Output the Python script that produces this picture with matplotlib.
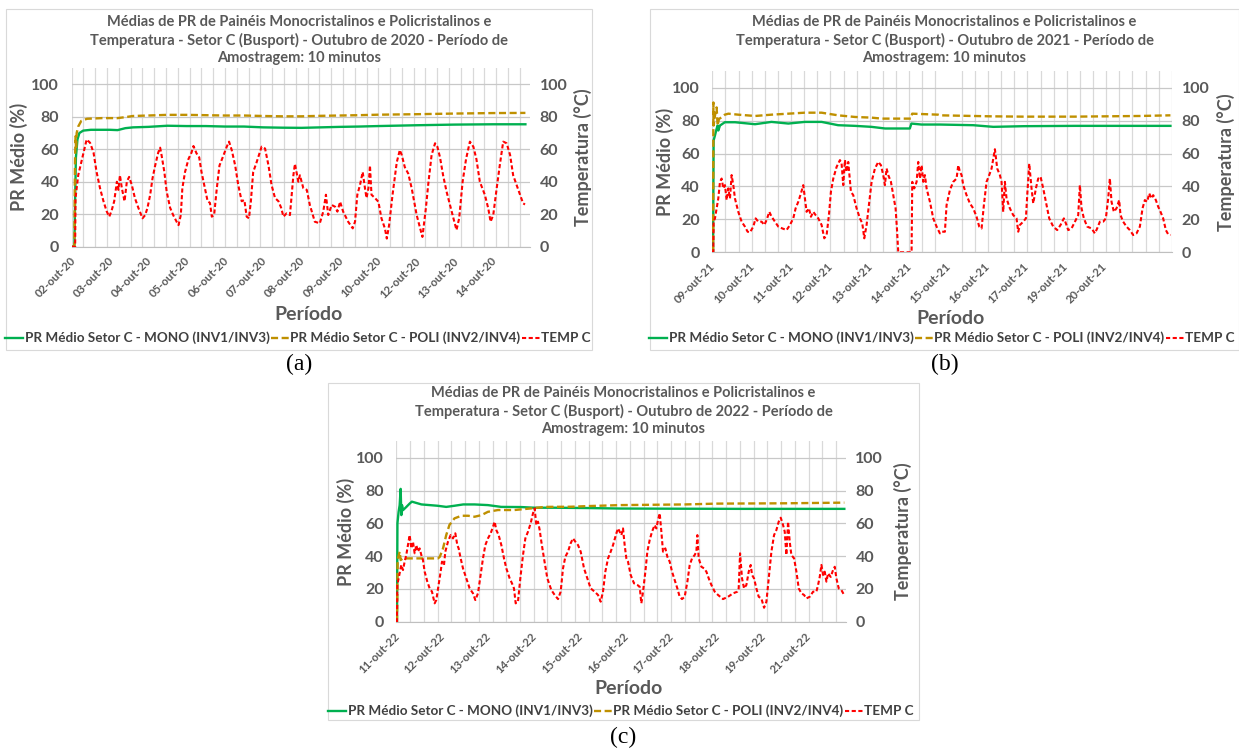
import matplotlib
matplotlib.use("Agg")
import matplotlib.pyplot as plt
from matplotlib.patches import Rectangle
from matplotlib.ticker import MultipleLocator

W, H = 1239, 751

plt.rcParams['font.family'] = ['Lato', 'DejaVu Sans']
plt.rcParams['font.weight'] = 'bold'

GREEN = '#00b050'
GOLD = '#bf9000'
RED = '#ff0000'
TXT = '#595959'
LEG = '#404040'

LEG_MONO = 'PR Médio Setor C - MONO (INV1/INV3)'
LEG_POLI = 'PR Médio Setor C - POLI (INV2/INV4)'
LEG_TEMP = 'TEMP C'
YLABEL_L = 'PR Médio (%)'
YLABEL_R = 'Temperatura (°C)'
XLABEL = 'Período'

# ---------------- (a) Outubro 2020 ----------------
a_title = ('Médias de PR de Painéis Monocristalinos e Policristalinos e\n'
           'Temperatura - Setor C (Busport) - Outubro de 2020 - Período de\n'
           'Amostragem: 10 minutos')
a_labels = ['02-out-20', '03-out-20', '04-out-20', '05-out-20', '06-out-20', '07-out-20',
            '08-out-20', '09-out-20', '10-out-20', '12-out-20', '13-out-20', '14-out-20']
# (days since start, value)
a_temp = [(0.00, 0), (0.09, 0), (0.10, 30), (0.17, 44), (0.31, 58), (0.39, 66), (0.48, 64),
          (0.57, 58), (0.65, 46), (0.74, 36), (0.83, 28), (0.91, 22), (0.98, 18.5), (1.04, 22),
          (1.11, 28), (1.18, 40), (1.22, 35), (1.26, 44), (1.31, 36), (1.38, 28), (1.44, 40),
          (1.50, 43), (1.57, 38), (1.65, 30), (1.74, 24), (1.85, 17.5), (1.92, 19.5), (1.98, 24),
          (2.05, 32), (2.11, 42), (2.18, 50), (2.26, 58), (2.31, 61), (2.35, 56), (2.42, 46),
          (2.48, 34), (2.57, 24), (2.65, 19.5), (2.74, 15.4), (2.79, 13.3), (2.85, 19.5),
          (2.89, 36), (2.96, 46), (3.05, 54), (3.13, 58), (3.18, 62), (3.26, 57.5), (3.33, 55),
          (3.39, 46), (3.48, 36), (3.55, 28), (3.61, 27), (3.66, 18.5), (3.72, 19.5), (3.79, 36),
          (3.86, 50), (3.96, 56), (4.05, 61.6), (4.11, 64.7), (4.18, 59.5), (4.27, 50), (4.35, 38),
          (4.44, 28), (4.51, 28.7), (4.57, 18.5), (4.63, 17.5), (4.68, 28), (4.74, 46), (4.83, 52),
          (4.96, 61.6), (5.05, 60.5), (5.14, 50), (5.22, 38), (5.31, 30), (5.40, 28), (5.47, 24),
          (5.53, 18.5), (5.61, 20.5), (5.70, 19.5), (5.79, 44), (5.83, 51), (5.92, 40), (5.96, 44),
          (6.05, 36), (6.14, 35), (6.22, 25.7), (6.35, 15.4), (6.48, 14.4), (6.57, 21.6),
          (6.64, 32), (6.70, 19.5), (6.79, 25.7), (6.88, 24.6), (6.94, 21.6), (7.01, 27.7),
          (7.09, 21.6), (7.22, 15.4), (7.34, 11.3), (7.40, 15.4), (7.46, 32), (7.53, 38),
          (7.60, 46), (7.66, 36), (7.70, 30), (7.75, 36), (7.79, 50), (7.83, 32), (7.92, 30),
          (8.01, 27.7), (8.09, 17.5), (8.18, 11.3), (8.23, 5), (8.29, 13.3), (8.38, 32),
          (8.49, 52), (8.57, 59.5), (8.62, 56.5), (8.70, 49), (8.79, 45), (8.88, 36), (9.01, 19.5),
          (9.10, 11.3), (9.16, 6), (9.25, 23.6), (9.31, 38), (9.40, 56.5), (9.49, 63.7),
          (9.55, 61.6), (9.62, 55), (9.70, 44), (9.79, 34), (9.88, 25.7), (9.97, 17.5),
          (10.05, 10.3), (10.12, 17.5), (10.21, 40), (10.30, 54), (10.40, 64.7), (10.49, 61.6),
          (10.57, 54), (10.66, 40), (10.79, 32), (10.88, 23.6), (10.94, 15.4), (11.01, 19.5),
          (11.10, 36), (11.18, 50), (11.27, 64.7), (11.36, 63.7), (11.45, 56.5), (11.53, 44),
          (11.62, 38), (11.71, 32), (11.79, 26.7), (11.84, 26)]
a_mono = [(0.00, 0), (0.07, 0), (0.09, 30), (0.11, 55), (0.15, 66), (0.20, 70), (0.30, 71.5),
          (0.50, 72), (1.00, 72), (1.20, 71.8), (1.40, 73), (1.60, 73.5), (2.00, 73.8),
          (2.50, 74.5), (3.00, 74.3), (3.50, 74.3), (4.00, 74), (4.50, 74), (5.00, 73.5),
          (5.50, 73.3), (6.00, 73.2), (6.50, 73.5), (7.00, 73.8), (7.50, 74), (8.00, 74.3),
          (9.00, 74.8), (10.00, 75.2), (11.00, 75.4), (11.85, 75.4)]
a_poli = [(0.00, 0), (0.07, 0), (0.085, 50), (0.10, 68), (0.115, 60), (0.13, 70), (0.17, 74),
          (0.25, 77.5), (0.40, 78.8), (0.80, 79.2), (1.20, 79.2), (1.40, 79.8), (1.60, 80.5),
          (2.00, 80.8), (2.50, 81.2), (3.00, 81.2), (3.50, 81), (4.00, 80.8), (4.50, 80.8),
          (5.00, 80.5), (5.50, 80.3), (6.00, 80.3), (6.50, 80.6), (7.00, 80.8), (7.50, 81),
          (8.00, 81.3), (9.00, 81.6), (10.00, 82), (11.00, 82.3), (11.85, 82.4)]

# ---------------- (b) Outubro 2021 ----------------
b_title = ('Médias de PR de Painéis Monocristalinos e Policristalinos e\n'
           'Temperatura - Setor C (Busport) - Outubro de 2021 - Período de\n'
           'Amostragem: 10 minutos')
b_labels = ['09-out-21', '10-out-21', '11-out-21', '12-out-21', '13-out-21', '14-out-21',
            '15-out-21', '16-out-21', '17-out-21', '19-out-21', '20-out-21']
b_temp = [(0.00, 0), (0.026, 0), (0.034, 18.6), (0.068, 20.6), (0.111, 26.7), (0.153, 32.7),
          (0.196, 42.8), (0.238, 44.8), (0.281, 38.8), (0.323, 40.8), (0.366, 31.7), (0.408, 38.8),
          (0.451, 32.7), (0.493, 46.9), (0.536, 40.8), (0.578, 32.7), (0.663, 24.6), (0.748, 18.6),
          (0.833, 15.6), (0.901, 12.5), (0.961, 12.1), (1.046, 15.6), (1.105, 20.6), (1.173, 18.6),
          (1.259, 18.6), (1.327, 16.6), (1.386, 19.6), (1.454, 24.6), (1.514, 21.6), (1.599, 18.6),
          (1.684, 15.6), (1.786, 14.5), (1.896, 13.5), (1.981, 16.6), (2.066, 20.6), (2.126, 26.7),
          (2.194, 30.7), (2.262, 35.8), (2.321, 40.8), (2.364, 32.7), (2.406, 24.6), (2.466, 26.7),
          (2.517, 21.6), (2.577, 24.6), (2.636, 22.6), (2.704, 20.6), (2.789, 16.6), (2.857, 8.5),
          (2.917, 10.5), (2.976, 22.6), (3.027, 36.8), (3.087, 44.8), (3.172, 51.9), (3.257, 56),
          (3.299, 53.9), (3.342, 40.8), (3.384, 56), (3.427, 48.9), (3.469, 54.9), (3.537, 36.8),
          (3.597, 34.7), (3.682, 26.7), (3.767, 20.6), (3.827, 17.6), (3.878, 8.5), (3.937, 16.6),
          (3.997, 28.7), (4.065, 42.8), (4.150, 50.9), (4.235, 54.9), (4.303, 52.9), (4.362, 46.9),
          (4.405, 40.8), (4.447, 50.9), (4.490, 46.9), (4.558, 42.8), (4.617, 34.7), (4.677, 26.7),
          (4.711, 14.5), (4.745, 0), (5.085, 0), (5.102, 42.8), (5.153, 38.8), (5.213, 42.8),
          (5.255, 54.9), (5.298, 44.8), (5.340, 52.9), (5.383, 42.8), (5.425, 46.9), (5.468, 38.8),
          (5.553, 30.7), (5.638, 20.6), (5.723, 15.6), (5.808, 11.5), (5.850, 12.5), (5.935, 12.5),
          (5.978, 28.7), (6.063, 37.8), (6.148, 42.8), (6.233, 44.8), (6.276, 52.9), (6.318, 48.9),
          (6.361, 46.9), (6.403, 40.8), (6.488, 34.7), (6.573, 29.7), (6.658, 26.7), (6.743, 21.6),
          (6.811, 15.6), (6.871, 14.5), (6.930, 28.7), (6.998, 42.8), (7.066, 46.9), (7.126, 50.9),
          (7.211, 62.6), (7.270, 50.9), (7.338, 46.9), (7.381, 42.8), (7.423, 24.6), (7.466, 42.8),
          (7.508, 32.7), (7.593, 26.7), (7.678, 22.6), (7.763, 20.6), (7.806, 12.5), (7.849, 16.6),
          (7.934, 18.6), (8.002, 20.6), (8.036, 34.7), (8.087, 53.9), (8.146, 38.8), (8.189, 29.7),
          (8.257, 38.8), (8.316, 44.8), (8.376, 45.9), (8.444, 38.8), (8.512, 30.7), (8.597, 20.6),
          (8.699, 15.6), (8.801, 13.5), (8.886, 16.6), (8.971, 20.6), (9.022, 17.6), (9.082, 13.5),
          (9.167, 14.5), (9.252, 18.6), (9.337, 22.6), (9.379, 40.8), (9.422, 26.7), (9.481, 20.6),
          (9.566, 15.6), (9.677, 14.5), (9.762, 11.5), (9.821, 14.5), (9.889, 18.6), (9.974, 18.6),
          (10.042, 20.6), (10.102, 32.7), (10.144, 44.8), (10.187, 30.7), (10.246, 24.6),
          (10.314, 26.7), (10.382, 31.7), (10.416, 22.6), (10.484, 18.6), (10.569, 15.6),
          (10.654, 13.5), (10.740, 10.5), (10.825, 11.5), (10.910, 15.6), (10.978, 26.7),
          (11.037, 31.7), (11.097, 30.7), (11.148, 35.8), (11.208, 32.7), (11.250, 34.7),
          (11.318, 31.7), (11.378, 27.7), (11.437, 24.6), (11.505, 20.6), (11.573, 13.5),
          (11.633, 10.9), (11.692, 10.5)]
b_mono = [(0.00, 0), (0.02, 0), (0.034, 68), (0.068, 71), (0.11, 75), (0.136, 77), (0.153, 74),
          (0.196, 77), (0.32, 79), (0.58, 79), (1.09, 77.8), (1.51, 79.2), (1.94, 78.2),
          (2.36, 79.2), (2.79, 79.2), (3.21, 77.2), (3.64, 76.8), (4.06, 76.2), (4.41, 75.2),
          (5.04, 75.2), (5.08, 78.2), (5.34, 77.6), (5.81, 77.6), (6.66, 77.2), (7.17, 76.2),
          (7.94, 76.6), (9.25, 76.8), (11.69, 76.8)]
b_poli = [(0.00, 0), (0.02, 0), (0.028, 91), (0.034, 77), (0.068, 83), (0.11, 88), (0.136, 77),
          (0.17, 81), (0.24, 82), (0.32, 83.6), (0.41, 84.2), (0.66, 83.6), (1.09, 82.8),
          (1.51, 83.6), (1.94, 84.2), (2.36, 84.8), (2.79, 84.8), (3.21, 83.2), (3.64, 82.2),
          (4.06, 81.8), (4.32, 81.2), (5.07, 81.2), (5.10, 84.2), (5.76, 83.6), (5.81, 83.2),
          (7.09, 82.6), (7.93, 82.4), (9.25, 82.4), (10.91, 82.8), (11.69, 83.2)]

# ---------------- (c) Outubro 2022 ----------------
c_title = ('Médias de PR de Painéis Monocristalinos e Policristalinos e\n'
           'Temperatura - Setor C (Busport) - Outubro de 2022 - Período de\n'
           'Amostragem: 10 minutos')
c_labels = ['11-out-22', '12-out-22', '13-out-22', '14-out-22', '15-out-22',
            '16-out-22', '17-out-22', '18-out-22', '19-out-22', '21-out-22']
c_temp = [(0.00, 0), (0.015, 0), (0.022, 22.4), (0.051, 26.4), (0.080, 30.5), (0.109, 34.6),
          (0.146, 31.5), (0.182, 36.6), (0.218, 40.7), (0.255, 46.7), (0.291, 52.8), (0.328, 44.7),
          (0.364, 48.8), (0.400, 41.7), (0.437, 46.7), (0.473, 42.7), (0.509, 44.7), (0.546, 40.7),
          (0.582, 37.6), (0.619, 30.5), (0.677, 24.4), (0.728, 20.3), (0.779, 18.3), (0.837, 11.2),
          (0.873, 13.2), (0.924, 22.4), (0.968, 30.5), (0.997, 36.6), (1.041, 34.6), (1.070, 42.7),
          (1.128, 48.8), (1.186, 52.8), (1.237, 50.8), (1.288, 53.9), (1.332, 46.7), (1.361, 44.7),
          (1.405, 38.6), (1.456, 32.5), (1.528, 26.4), (1.601, 20.3), (1.674, 17.3), (1.725, 13.2),
          (1.783, 17.3), (1.841, 28.5), (1.892, 38.6), (1.943, 46.7), (2.001, 50.8), (2.060, 53.9),
          (2.111, 57.9), (2.147, 61), (2.183, 55.9), (2.234, 52.8), (2.293, 46.7), (2.351, 38.6),
          (2.402, 32.5), (2.475, 26.4), (2.525, 23.4), (2.569, 20.3), (2.606, 11.2), (2.656, 12.2),
          (2.707, 26.4), (2.766, 40.7), (2.817, 50.8), (2.875, 54.9), (2.933, 60), (2.984, 66.1),
          (3.020, 69.1), (3.057, 58.9), (3.093, 61), (3.130, 55.9), (3.166, 48.8), (3.224, 38.6),
          (3.297, 26.4), (3.384, 19.3), (3.457, 16.3), (3.530, 13.8), (3.588, 18.3), (3.639, 32.5),
          (3.690, 39.6), (3.748, 42.7), (3.806, 47.8), (3.857, 50.8), (3.908, 48.8), (3.967, 46.7),
          (4.025, 42.7), (4.098, 32.5), (4.170, 26.4), (4.243, 20.3), (4.330, 18.3), (4.403, 16.3),
          (4.461, 12.2), (4.512, 18.3), (4.563, 30.5), (4.622, 38.6), (4.680, 42.7), (4.731, 46.7),
          (4.804, 53.9), (4.840, 56.9), (4.913, 52.8), (4.949, 56.9), (4.985, 46.7), (5.022, 38.6),
          (5.058, 36.6), (5.116, 28.5), (5.189, 23.4), (5.262, 22.4), (5.313, 21.3), (5.349, 11.2),
          (5.386, 18.3), (5.437, 30.5), (5.480, 42.7), (5.531, 49.8), (5.582, 54.9), (5.640, 58.9),
          (5.677, 56.9), (5.713, 62), (5.750, 66.1), (5.786, 54.9), (5.822, 42.7), (5.873, 44.7),
          (5.917, 39.6), (5.968, 36.6), (6.019, 30.5), (6.077, 25.4), (6.135, 20.3), (6.186, 15.2),
          (6.237, 13.8), (6.295, 15.2), (6.354, 24.4), (6.405, 34.6), (6.456, 38.6), (6.514, 40.7),
          (6.550, 42.7), (6.572, 52.8), (6.601, 38.6), (6.660, 33.5), (6.718, 32.5), (6.769, 30.5),
          (6.820, 26.4), (6.878, 22.4), (6.951, 18.3), (7.023, 16.3), (7.132, 13.8), (7.242, 15.2),
          (7.351, 17.3), (7.445, 18.3), (7.474, 20.3), (7.504, 41.7), (7.547, 26.4), (7.591, 20.3),
          (7.642, 22.4), (7.693, 30.5), (7.736, 34.6), (7.766, 28.5), (7.809, 26.4), (7.860, 20.3),
          (7.911, 15.2), (7.969, 14.2), (8.028, 8.5), (8.079, 12.2), (8.130, 26.4), (8.188, 42.7),
          (8.246, 52.8), (8.297, 55.9), (8.348, 61), (8.392, 63.4), (8.443, 58.9), (8.479, 54.9),
          (8.515, 40.7), (8.552, 61), (8.588, 48.8), (8.624, 40.7), (8.683, 38.6), (8.734, 30.5),
          (8.785, 20.3), (8.843, 17.3), (8.901, 16.3), (8.952, 14.2), (9.025, 15.2), (9.098, 18.3),
          (9.170, 18.3), (9.207, 22.4), (9.243, 27.3), (9.280, 34.6), (9.316, 28.5), (9.352, 30.5),
          (9.389, 24.4), (9.425, 29.5), (9.483, 27.3), (9.534, 31.5), (9.571, 33.5), (9.607, 26.4),
          (9.658, 20.3), (9.716, 19.3), (9.775, 16.3)]
c_mono = [(0.00, 0), (0.015, 0), (0.025, 60), (0.05, 67), (0.073, 71), (0.095, 81), (0.11, 65),
          (0.125, 71), (0.146, 68), (0.22, 70), (0.29, 72), (0.34, 73.2), (0.55, 71.5), (0.90, 70.7),
          (1.09, 70), (1.27, 70.7), (1.46, 71.5), (1.71, 71.5), (2.00, 71.1), (2.29, 70),
          (2.73, 69.9), (3.02, 69.5), (3.46, 69.5), (4.19, 69.3), (4.90, 69), (6.00, 68.9),
          (7.50, 68.8), (9.78, 68.8)]
c_poli = [(0.00, 0), (0.015, 0), (0.03, 38), (0.073, 42.7), (0.095, 37.6), (0.146, 38.6),
          (0.50, 38.6), (0.91, 38.6), (0.95, 39.6), (1.02, 44.7), (1.09, 52.8), (1.16, 59),
          (1.27, 63), (1.42, 64.6), (1.57, 64.6), (1.71, 64), (1.86, 65), (2.00, 67), (2.22, 68.1),
          (2.58, 68.1), (2.95, 69.1), (3.24, 70), (3.82, 70.1), (4.19, 70.5), (4.90, 71.1),
          (6.30, 71.5), (7.00, 72), (8.50, 72.2), (9.78, 72.6)]


fig = plt.figure(figsize=(W / 100, H / 100), dpi=100)


def fx(x):
    return x / W


def fy(y):
    return 1 - y / H


def panel(frame, plot, xmax, first_tick, grid_step, title, title_y, labels,
          mono, poli, temp, ylab_x, yrlab_x, xlab_y, leg_x, leg_y, caption, cap_y):
    fl, ft, fr, fb = frame
    fig.add_artist(Rectangle((fx(fl), fy(fb)), fx(fr - fl), (fb - ft) / H,
                             transform=fig.transFigure, fill=False,
                             edgecolor='#d9d9d9', lw=0.8))
    pl, pt, pr, pb = plot
    ax = fig.add_axes([fx(pl), fy(pb), fx(pr - pl), (pb - pt) / H])
    ax2 = ax.twinx()

    t, v = zip(*mono)
    l1, = ax.plot(t, v, color=GREEN, lw=1.7, zorder=3)
    t, v = zip(*poli)
    l2, = ax.plot(t, v, color=GOLD, lw=1.7, dashes=(3.0, 1.5), zorder=3)
    t, v = zip(*temp)
    l3, = ax2.plot(t, v, color=RED, lw=1.5, dashes=(2.0, 1.2), zorder=3)

    for a in (ax, ax2):
        a.set_xlim(0, xmax)
        a.set_ylim(0, 110)
        a.set_yticks(range(0, 101, 20))
        for s in a.spines.values():
            s.set_visible(False)
    ax.spines['bottom'].set_visible(True)
    ax.spines['bottom'].set_color('#bfbfbf')

    ax.set_xticks([first_tick + i for i in range(len(labels))])
    ax.set_xticklabels(labels, rotation=45, ha='right', va='center',
                       rotation_mode='anchor')
    ax.xaxis.set_minor_locator(MultipleLocator(grid_step))
    ax.grid(which='minor', axis='x', color='#d9d9d9', lw=0.9)
    ax.grid(which='major', axis='y', color='#c8c8c8', lw=0.9)
    ax.set_axisbelow(True)
    ax.tick_params(axis='x', which='both', length=0, pad=9, labelsize=8.2, labelcolor=TXT)
    ax.tick_params(axis='y', length=0, pad=9, labelsize=11.5, labelcolor=TXT)
    ax2.tick_params(axis='y', length=0, pad=7, labelsize=11.5, labelcolor=TXT)

    cx = (fl + fr) / 2
    fig.text(fx(cx), fy(title_y), title, ha='center', va='center', fontsize=10.5,
             color=TXT, linespacing=1.33)
    ymid = (pt + pb) / 2
    fig.text(fx(ylab_x), fy(ymid), YLABEL_L, rotation=90, ha='center', va='center',
             fontsize=13, color=TXT)
    fig.text(fx(yrlab_x), fy(ymid), YLABEL_R, rotation=90, ha='center', va='center',
             fontsize=13, color=TXT)
    fig.text(fx((pl + pr) / 2 + 8), fy(xlab_y), XLABEL, ha='center', va='center',
             fontsize=14, color=TXT)
    fig.legend([l1, l2, l3], [LEG_MONO, LEG_POLI, LEG_TEMP], loc='center',
               bbox_to_anchor=(fx(leg_x), fy(leg_y)), ncol=3, frameon=False,
               fontsize=9.7, labelcolor=LEG, handlelength=1.35, handletextpad=0.1,
               columnspacing=0.1, borderpad=0, borderaxespad=0)
    fig.text(fx(cx), fy(cap_y), caption, ha='center', va='center', fontsize=17,
             family='Liberation Serif', weight='normal', color='black')


panel((6, 9, 592, 350), (71.7, 68.1, 530, 246.7), 11.97, 0.05, 0.308, a_title, 40,
      a_labels, a_mono, a_poli, a_temp, 19, 583, 315, 298, 338, '(a)', 364)
panel((650, 9, 1239, 350), (712.3, 71.2, 1172, 252.3), 11.73, 0.03, 0.335, b_title, 40,
      b_labels, b_mono, b_poli, b_temp, 665, 1226, 318, 942, 338, '(b)', 364)
panel((328, 383, 919, 720), (396.3, 441.3, 845.7, 621.7), 9.81, 0.02, 0.30, c_title, 411,
      c_labels, c_mono, c_poli, c_temp, 346, 903, 689, 621, 711, '(c)', 737)

fig.savefig('out.png', dpi=100)
